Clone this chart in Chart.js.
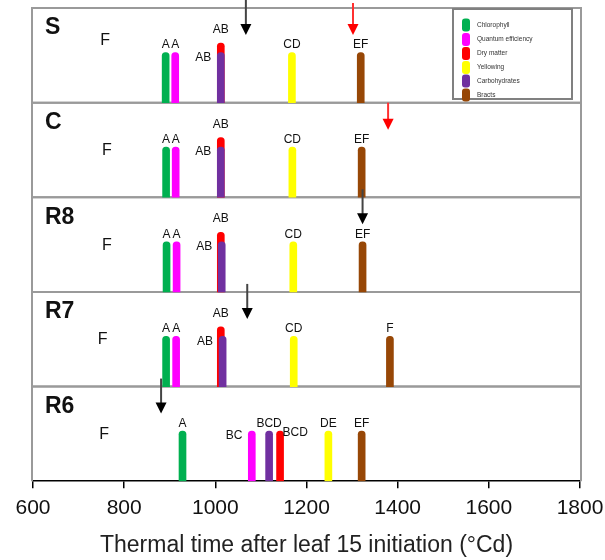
<!DOCTYPE html>
<html>
<head>
<meta charset="utf-8">
<style>
  html, body { margin: 0; padding: 0; background: #fff; }
  #wrap { width: 605px; height: 560px; }
</style>
<script src="https://cdn.jsdelivr.net/npm/chart.js@4.4.1/dist/chart.umd.min.js"></script>
</head>
<body>
<div id="wrap"><canvas id="chart" width="605" height="560"></canvas></div>
<script>
// panels, top to bottom
const panels = ['S', 'C', 'R8', 'R7', 'R6'];
const traits = ['Chlorophyll', 'Quantum efficiency', 'Dry matter', 'Yellowing', 'Carbohydrates', 'Bracts'];

// thermal time (°Cd) at which each trait changes, one value per panel
const chlorophyll   = [891, 892, 893, 892, 928];
const quantumEff    = [912, 913, 915, 914, 1080];
const dryMatter     = [1012, 1012, 1012, 1012, 1142];
const yellowing     = [1168, 1169, 1171, 1172, 1248];
const carbohydrates = [1012, 1012, 1014, 1016, 1118];
const bracts        = [1319, 1321, 1323, 1383, 1321];

// significance letters
const chlorophyllSig   = ['A', 'A', 'A', 'A', 'A'];
const quantumEffSig    = ['A', 'A', 'A', 'A', 'BC'];
const dryMatterSig     = ['AB', 'AB', 'AB', 'AB', 'BCD'];
const yellowingSig     = ['CD', 'CD', 'CD', 'CD', 'DE'];
const carbohydratesSig = ['AB', 'AB', 'AB', 'AB', 'BCD'];
const bractsSig        = ['EF', 'EF', 'EF', 'F', 'EF'];
const otherSig         = ['F', 'F', 'F', 'F', 'F'];
const otherSigAt       = [758, 762, 762, 753, 756];

// arrows (°Cd), null = none
const blackArrows = [1067, null, 1323, 1070, 881];
const redArrows   = [1302, 1379, null, null, null];

const xTicks = [600, 800, 1000, 1200, 1400, 1600, 1800];

// ---- styling ----
const FONT = "'Liberation Sans', Arial, sans-serif";
const colors = ['#00b050', '#ff00ff', '#ff0000', '#ffff00', '#7030a0', '#974706'];
const BAR_H = 0.53, BAR_H_HIGH = 0.63;
// where each letter goes relative to its bar
const sigPlace = [
  ['above', 'above', 'above', 'above', 'above'],
  ['above', 'above', 'above', 'above', 'left'],
  ['high', 'high', 'high', 'high', 'right'],
  ['above', 'above', 'above', 'above', 'above'],
  ['left', 'left', 'left', 'left', 'above'],
  ['above', 'above', 'above', 'above', 'above']
];

const series = [chlorophyll, quantumEff, dryMatter, yellowing, carbohydrates, bracts];
const sigs = [chlorophyllSig, quantumEffSig, dryMatterSig, yellowingSig, carbohydratesSig, bractsSig];

function barHeight(t, i) {
  if (t === 2 && Math.abs(dryMatter[i] - carbohydrates[i]) < 10) return BAR_H_HIGH;
  return BAR_H;
}

// carbohydrates drawn over dry matter -> lower index draws on top
const drawOrder = [0, 1, 4, 2, 3, 5];
const datasets = drawOrder.map(t => ({
  label: traits[t],
  traitIndex: t,
  data: series[t].map((v, i) => ({ x: v, y: [4 - i, 4 - i + barHeight(t, i)] })),
  backgroundColor: colors[t],
  borderWidth: 0,
  barThickness: 7,
  grouped: false,
  borderSkipped: 'start',
  borderRadius: { topLeft: 3.5, topRight: 3.5, bottomLeft: 0, bottomRight: 0 }
}));

function drawArrow(ctx, x, y0, tip, color) {
  ctx.save();
  ctx.strokeStyle = color === 'red' ? '#ff3030' : '#444';
  ctx.lineWidth = 2;
  ctx.beginPath();
  ctx.moveTo(x, y0);
  ctx.lineTo(x, tip - 9);
  ctx.stroke();
  ctx.fillStyle = color === 'red' ? '#ff0000' : '#000';
  ctx.beginPath();
  ctx.moveTo(x - 5.5, tip - 11);
  ctx.lineTo(x + 5.5, tip - 11);
  ctx.lineTo(x, tip);
  ctx.closePath();
  ctx.fill();
  ctx.restore();
}

const panelPlugin = {
  id: 'panels',
  beforeDatasetsDraw(chart) {
    const { ctx, chartArea, scales: { y } } = chart;
    ctx.save();
    ctx.strokeStyle = '#9a9a9a';
    ctx.lineWidth = 2;
    panels.forEach((p, i) => {
      const top = y.getPixelForValue(5 - i);
      const bot = y.getPixelForValue(4 - i);
      const l = chartArea.left - 1, r = chartArea.right + 1;
      ctx.beginPath();
      if (i < panels.length - 1) {
        ctx.rect(l, top, r - l, bot - top);
      } else {
        ctx.moveTo(l, bot); ctx.lineTo(l, top); ctx.lineTo(r, top); ctx.lineTo(r, bot);
      }
      ctx.stroke();
    });
    ctx.restore();
  },
  afterDatasetsDraw(chart) {
    const { ctx, scales: { x, y } } = chart;
    ctx.save();

    // panel names and stray letter
    panels.forEach((p, i) => {
      const top = y.getPixelForValue(5 - i);
      ctx.fillStyle = '#111';
      ctx.font = `bold 23px ${FONT}`;
      ctx.textAlign = 'left';
      ctx.textBaseline = 'middle';
      ctx.fillText(p, 45, top + 20);
      ctx.font = `16px ${FONT}`;
      ctx.textAlign = 'center';
      ctx.fillText(otherSig[i], x.getPixelForValue(otherSigAt[i]), i === 0 ? top + 33 : top + 48);
    });

    // letters next to bars
    ctx.font = `12px ${FONT}`;
    ctx.fillStyle = '#111';
    chart.data.datasets.forEach((ds, di) => {
      const t = ds.traitIndex;
      const meta = chart.getDatasetMeta(di);
      meta.data.forEach((bar, i) => {
        const place = sigPlace[t][i];
        const txt = sigs[t][i];
        const half = bar.width / 2;
        if (place === 'above' || place === 'high') {
          ctx.textAlign = 'center';
          ctx.textBaseline = 'alphabetic';
          ctx.fillText(txt, bar.x, bar.y - (place === 'high' ? 10 : 4));
        } else if (place === 'left') {
          ctx.textAlign = 'right';
          ctx.textBaseline = 'middle';
          ctx.fillText(txt, bar.x - half - 6, bar.y + 5);
        } else {
          ctx.textAlign = 'left';
          ctx.textBaseline = 'middle';
          ctx.fillText(txt, bar.x + half - 1, bar.y + 2);
        }
      });
    });

    // arrows
    panels.forEach((p, i) => {
      const top = y.getPixelForValue(5 - i);
      const start = Math.max(0, top - 8);
      if (blackArrows[i] != null) drawArrow(ctx, x.getPixelForValue(blackArrows[i]), start, top + 27, 'black');
      if (redArrows[i] != null) drawArrow(ctx, x.getPixelForValue(redArrows[i]), i === 0 ? top - 5 : top, top + 27, 'red');
    });

    // legend box
    const lx = 453, ly = 9, lw = 119, lh = 90;
    ctx.fillStyle = '#fff';
    ctx.fillRect(lx, ly, lw, lh);
    ctx.strokeStyle = '#808080';
    ctx.lineWidth = 2;
    ctx.strokeRect(lx, ly, lw, lh);
    const rows = [25, 39.5, 53.5, 67.5, 81, 95];
    traits.forEach((name, k) => {
      ctx.fillStyle = colors[k];
      ctx.beginPath();
      ctx.roundRect(462, rows[k] - 6.5, 8, 13, 3);
      ctx.fill();
      ctx.fillStyle = '#333';
      ctx.font = `6.5px ${FONT}`;
      ctx.textAlign = 'left';
      ctx.textBaseline = 'middle';
      ctx.fillText(name, 477, rows[k]);
    });
    ctx.restore();
  }
};

new Chart(document.getElementById('chart'), {
  type: 'bar',
  data: { datasets },
  options: {
    responsive: false,
    animation: false,
    layout: { padding: { left: 33, right: 25, top: 8, bottom: 1 } },
    plugins: { legend: { display: false }, tooltip: { enabled: false } },
    scales: {
      x: {
        type: 'linear',
        min: 600,
        max: 1800,
        offset: false,
        afterBuildTicks: s => { s.ticks = xTicks.map(v => ({ value: v })); },
        afterFit: s => { s.paddingLeft = 0; s.paddingRight = 0; },
        grid: { offset: false, drawOnChartArea: false, drawTicks: true, tickLength: 7, color: '#000', lineWidth: 1.5 },
        border: { display: true, color: '#000', width: 1.5 },
        ticks: {
          font: { size: 21, family: FONT }, color: '#111', padding: 7, maxRotation: 0,
          callback: v => String(v)
        },
        title: {
          display: true,
          text: 'Thermal time after leaf 15 initiation (°Cd)',
          font: { size: 23, family: FONT },
          color: '#222',
          padding: { top: 4, bottom: 0 }
        }
      },
      y: { display: false, min: 0, max: 5 }
    }
  },
  plugins: [panelPlugin]
});
</script>
</body>
</html>
